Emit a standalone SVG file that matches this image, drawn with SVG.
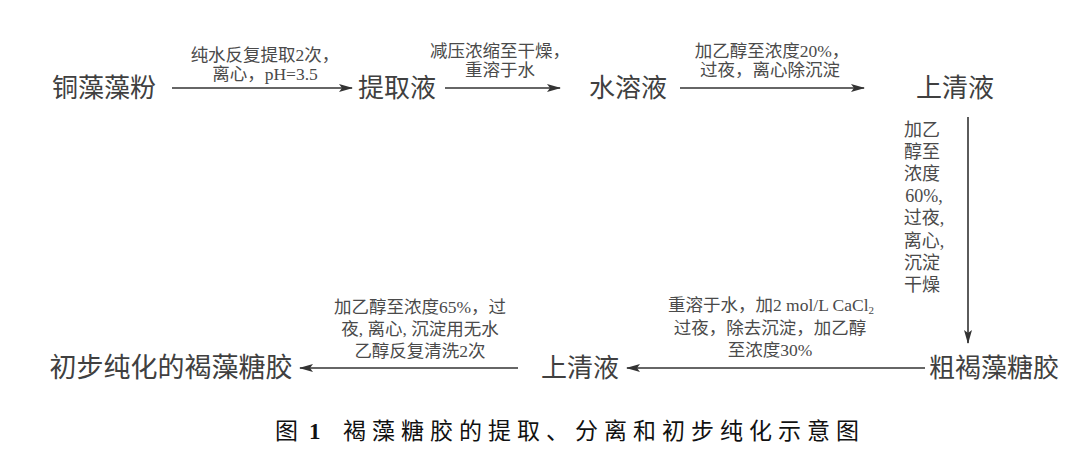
<svg xmlns="http://www.w3.org/2000/svg" width="1080" height="459" viewBox="0 0 1080 459">
<style>
.node{font-family:"Liberation Serif","Noto Sans CJK SC",serif;font-size:26px;fill:#404040;text-anchor:middle}
.lbl{font-family:"Liberation Serif","Noto Sans CJK SC",serif;font-size:17.5px;fill:#4a4a4a;text-anchor:middle}
.cap{font-family:"Liberation Serif","Noto Sans CJK SC",serif;font-size:23px;fill:#111}
.ln{stroke:#333;stroke-width:1.6;fill:none;marker-end:url(#ah)}
</style>
<defs>
<marker id="ah" markerWidth="14" markerHeight="8" refX="13" refY="4" orient="auto" markerUnits="userSpaceOnUse">
<path d="M0,0 L14,4 L0,8 L3,4 Z" fill="#333"/>
</marker>
</defs>
<rect width="1080" height="459" fill="#fff"/>
<g id="connectors">
<line class="ln" x1="172" y1="88" x2="352" y2="88"/>
<line class="ln" x1="445" y1="88" x2="560" y2="88"/>
<line class="ln" x1="680" y1="88" x2="864" y2="88"/>
<line class="ln" x1="968" y1="117" x2="968" y2="343"/>
<line class="ln" x1="925" y1="368" x2="627" y2="368"/>
<line class="ln" x1="518" y1="368" x2="300" y2="368"/>
<text class="lbl" x="265" y="61">纯水反复提取2次，</text>
<text class="lbl" x="265" y="80">离心，pH=3.5</text>
<text class="lbl" x="500" y="57">减压浓缩至干燥，</text>
<text class="lbl" x="500" y="76">重溶于水</text>
<text class="lbl" x="772" y="57">加乙醇至浓度20%，</text>
<text class="lbl" x="770" y="76">过夜，离心除沉淀</text>
<g class="lbl" style="font-size:18px">
<text x="922" y="136">加乙</text>
<text x="922" y="158">醇至</text>
<text x="922" y="180">浓度</text>
<text x="924" y="202">60%,</text>
<text x="924" y="224">过夜,</text>
<text x="924" y="247">离心,</text>
<text x="922" y="269">沉淀</text>
<text x="922" y="291">干燥</text>
</g>
<text class="lbl" x="771" y="311">重溶于水，加2 mol/L CaCl<tspan font-size="11" dy="3">2</tspan></text>
<text class="lbl" x="770" y="334">过夜，除去沉淀，加乙醇</text>
<text class="lbl" x="770" y="356">至浓度30%</text>
<text class="lbl" x="420" y="313">加乙醇至浓度65%，过</text>
<text class="lbl" x="420" y="335">夜, 离心, 沉淀用无水</text>
<text class="lbl" x="420" y="357">乙醇反复清洗2次</text>
</g>
<g id="n1"><text class="node" x="104" y="97">铜藻藻粉</text></g>
<g id="n2"><text class="node" x="397" y="97">提取液</text></g>
<g id="n3"><text class="node" x="628" y="97">水溶液</text></g>
<g id="n4"><text class="node" x="955" y="97">上清液</text></g>
<g id="n5"><text class="node" x="994" y="377">粗褐藻糖胶</text></g>
<g id="n6"><text class="node" x="580" y="377">上清液</text></g>
<g id="n7"><text class="node" x="171" y="377" style="font-size:27px">初步纯化的褐藻糖胶</text></g>
<g id="caption">
<text class="cap" x="275" y="439">图<tspan x="309" font-weight="bold">1</tspan></text>
<text class="cap" x="343" y="439" letter-spacing="6">褐藻糖胶的提取、分离和初步纯化示意图</text>
</g>
</svg>
